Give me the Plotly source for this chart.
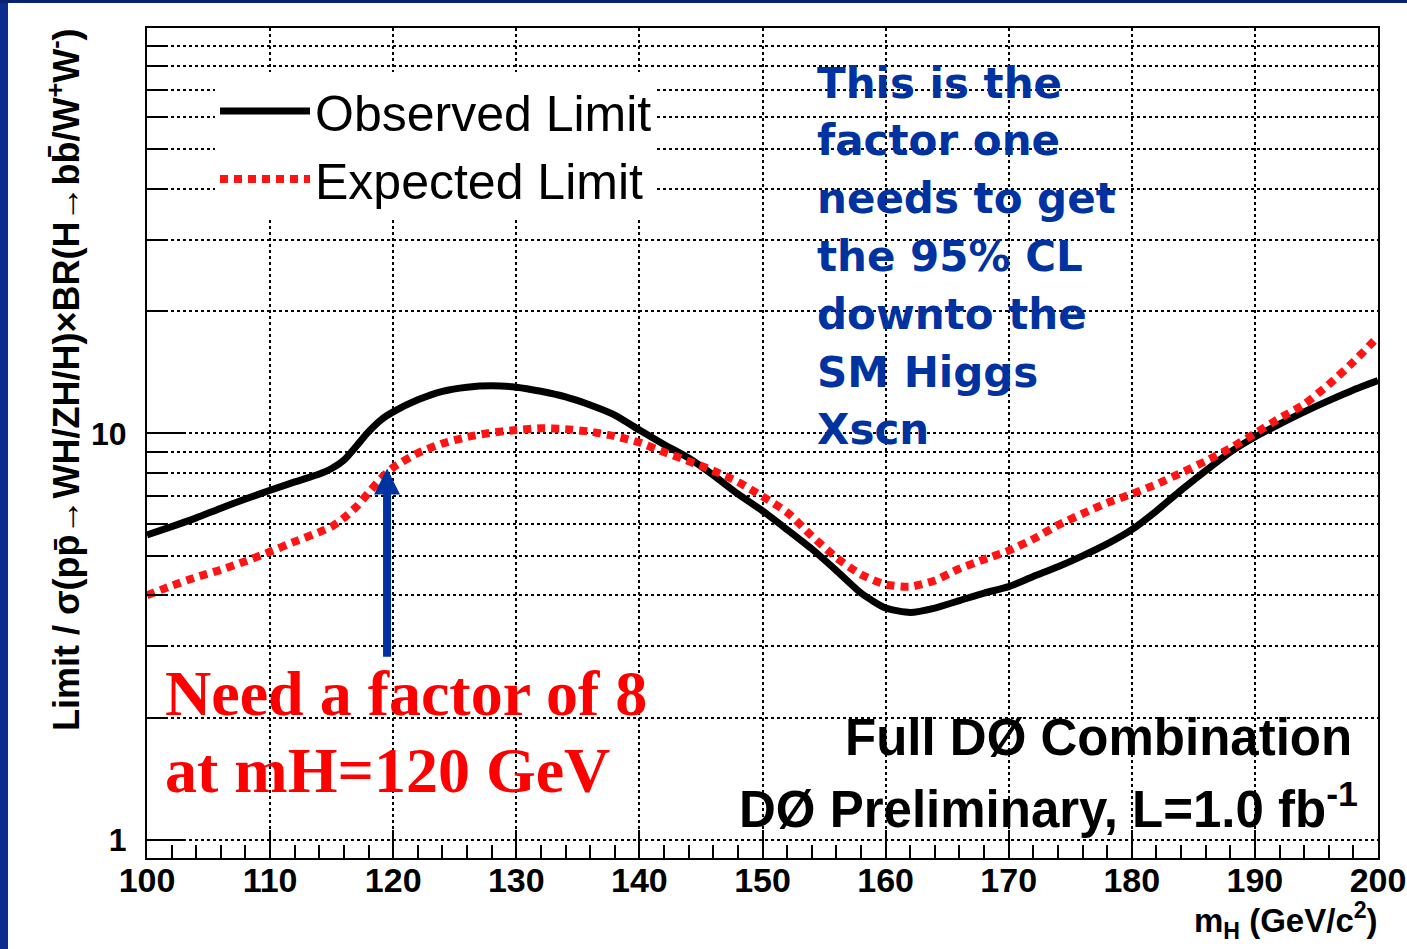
import numpy as np
import plotly.graph_objects as go

# Higgs mass points (GeV/c^2)
mass = [100, 102, 104, 106, 108, 110, 112, 114, 115, 116, 117, 118, 119, 120,
        122, 124, 126, 128, 130, 132, 134, 136, 138, 140, 142, 144, 146, 148,
        150, 152, 154, 156, 158, 160, 162, 164, 166, 168, 170, 172, 174, 176,
        178, 180, 182, 184, 186, 188, 190, 192, 194, 196, 198, 200]

# Limit / SM cross section, observed
observed = [5.63, 5.9, 6.2, 6.55, 6.9, 7.25, 7.6, 7.95, 8.2, 8.6, 9.3, 10.1, 10.8, 11.3,
            12.1, 12.7, 13.0, 13.1, 13.0, 12.7, 12.3, 11.75, 11.1, 10.2, 9.4, 8.7, 7.9, 7.1,
            6.45, 5.8, 5.2, 4.6, 4.05, 3.72, 3.63, 3.72, 3.88, 4.05, 4.2, 4.45, 4.7, 5.0,
            5.35, 5.8, 6.45, 7.25, 8.1, 9.0, 9.8, 10.55, 11.3, 12.05, 12.8, 13.5]

# Limit / SM cross section, expected
expected = [4.0, 4.22, 4.43, 4.62, 4.85, 5.12, 5.42, 5.72, 5.9, 6.2, 6.6, 7.15, 7.75, 8.25,
            8.95, 9.45, 9.8, 10.05, 10.2, 10.3, 10.25, 10.1, 9.85, 9.5, 9.0, 8.55, 8.1, 7.6,
            7.0, 6.4, 5.6, 4.95, 4.5, 4.25, 4.2, 4.35, 4.65, 4.9, 5.15, 5.5, 5.95, 6.35,
            6.75, 7.1, 7.5, 8.0, 8.55, 9.2, 10.0, 10.9, 11.8, 13.2, 15.0, 17.3]

x_major = list(range(100, 201, 10))
x_minor = [m for m in range(102, 200, 2) if m % 10]
y_major = [1, 10]
y_minor = [2, 3, 4, 5, 6, 7, 8, 9, 20, 30, 40, 50, 60, 70, 80, 90]

# arrow pointing at the expected limit near mH = 120
arrow_mass = 119.5
arrow_tip = 8.2
arrow_tail = 2.8

note_lines = ["This is the", "factor one", "needs to get", "the 95% CL",
              "downto the", "SM Higgs", "Xscn"]

# plot-area geometry in pixels, used to place decorations in paper units
W, H = 1407, 949
L, R, T, B = 147, 1378, 28, 858


def px(xp):
    return (xp - L) / (R - L)


def py(yp):
    return (B - yp) / (B - T)


SANS = "Liberation Sans, Arial, sans-serif"
SERIF = "Liberation Serif, Times New Roman, serif"
BLUE = "#0033a0"

fig = go.Figure()
fig.add_trace(go.Scatter(
    x=mass, y=observed, mode="lines", name="Observed Limit",
    line=dict(color="black", width=7, shape="spline", smoothing=0.6)))
fig.add_trace(go.Scatter(
    x=mass, y=expected, mode="lines", name="Expected Limit",
    line=dict(color="#ff1414", width=8, dash="8px,6px", shape="spline", smoothing=0.6)))

grid = dict(showgrid=True, gridcolor="black", gridwidth=2, griddash="dot")
frame = dict(showline=True, linecolor="black", linewidth=2, mirror=True,
             zeroline=False, automargin=False)

fig.update_xaxes(
    range=[100, 200], tickmode="array", tickvals=x_major,
    ticks="inside", ticklen=28, tickwidth=2, tickcolor="black",
    tickfont=dict(family=SANS, size=34, color="black", weight="bold"),
    ticklabelstandoff=-9,
    minor=dict(tickmode="array", tickvals=x_minor, ticks="inside", ticklen=13,
               tickwidth=2, tickcolor="black", showgrid=False),
    **grid, **frame)

fig.update_yaxes(
    type="log", range=[-0.0443, 1.9975], tickmode="array", tickvals=y_major,
    ticktext=["1", "10"],
    ticks="inside", ticklen=36, tickwidth=2, tickcolor="black",
    tickfont=dict(family=SANS, size=32, color="black", weight="bold"),
    ticklabelstandoff=12,
    minor=dict(tickmode="array", tickvals=y_minor, ticks="inside", ticklen=20,
               tickwidth=2, tickcolor="black", showgrid=True, gridcolor="black",
               gridwidth=2, griddash="dot"),
    **grid, **frame)

annotations = [
    # y-axis title
    dict(text="<b>Limit / σ(pp\u0304→WH/ZH/H)×BR(H→bb\u0304/W<sup>+</sup>W<sup>-</sup>)</b>",
         xref="paper", yref="paper", x=px(64), y=py(380), textangle=-90,
         xanchor="center", yanchor="middle",
         showarrow=False, font=dict(family=SANS, size=36, color="black")),
    # x-axis title
    dict(text="<b>m<sub>H</sub> (GeV/c<sup>2</sup>)</b>",
         xref="paper", yref="paper", x=px(1380), y=py(920), xanchor="right",
         yanchor="middle", showarrow=False, font=dict(family=SANS, size=33, color="black")),
    # red comment
    dict(text="Need a factor of 8", xref="paper", yref="paper", x=px(163), y=py(693),
         xanchor="left", yanchor="middle", showarrow=False,
         font=dict(family=SERIF, size=64, color="#ff0000", weight="bold")),
    dict(text="at mH=120 GeV", xref="paper", yref="paper", x=px(163), y=py(770),
         xanchor="left", yanchor="middle", showarrow=False,
         font=dict(family=SERIF, size=64, color="#ff0000", weight="bold")),
    # experiment labels
    dict(text="<b>Full DØ Combination</b>", xref="paper", yref="paper", x=px(1354), y=py(737),
         xanchor="right", yanchor="middle", showarrow=False,
         font=dict(family=SANS, size=51, color="black")),
    dict(text="<b>DØ Preliminary, L=1.0 fb<sup>-1</sup></b>", xref="paper", yref="paper",
         x=px(1360), y=py(806), xanchor="right", yanchor="middle", showarrow=False,
         font=dict(family=SANS, size=51, color="black")),
    # arrow
    dict(text="", x=arrow_mass, y=np.log10(arrow_tip), xref="x", yref="y",
         ax=arrow_mass, ay=np.log10(arrow_tail), axref="x", ayref="y",
         showarrow=True, arrowhead=2, arrowsize=0.65, arrowwidth=8, arrowcolor=BLUE,
         standoff=0),
]

# blue comment, one annotation per line
for i, line in enumerate(note_lines):
    annotations.append(dict(
        text=line, xref="paper", yref="paper", x=px(815), y=py(83 + 57.8 * i),
        xanchor="left", yanchor="middle", showarrow=False,
        font=dict(family="DejaVu Sans, sans-serif", size=42, color=BLUE, weight="bold")))

# slide background edges (dark blue strips at left and top)
shapes = [
    dict(type="rect", xref="paper", yref="paper", x0=px(0), x1=px(8), y0=py(H), y1=py(0),
         fillcolor="#0a2d8f", line=dict(width=0), layer="above"),
    dict(type="rect", xref="paper", yref="paper", x0=px(0), x1=px(W), y0=py(3), y1=py(0),
         fillcolor="#0a2370", line=dict(width=0), layer="above"),
]

fig.update_layout(
    width=W, height=H, margin=dict(l=L, r=W - R, t=T, b=H - B, autoexpand=False),
    paper_bgcolor="white", plot_bgcolor="white",
    showlegend=True,
    legend=dict(x=px(215), y=py(72), xanchor="left", yanchor="top",
                bgcolor="white", borderwidth=0, itemwidth=90,
                font=dict(family=SANS, size=50, color="black"),
                tracegroupgap=0),
    annotations=annotations, shapes=shapes,
)

fig.write_html("out.html")
